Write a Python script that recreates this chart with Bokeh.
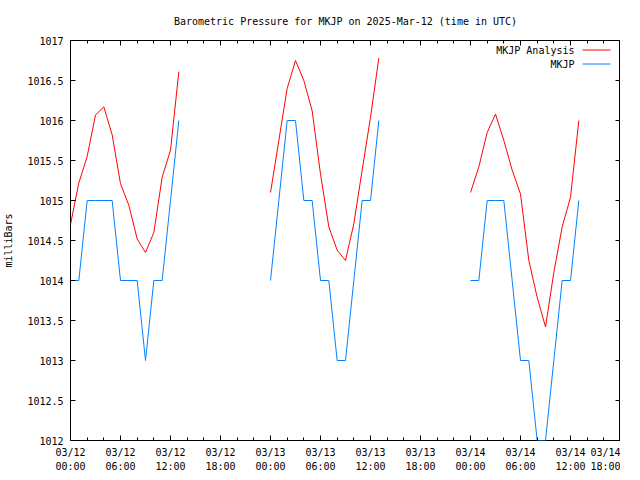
import math
from bokeh.plotting import figure
from bokeh.models import FixedTicker, LinearAxis, Range1d, Label
from bokeh.embed import file_html
from bokeh.resources import INLINE

# ---- data (hours after 2025-03-12 00:00 UTC) ----
day_start_hours = [0, 24, 48]

analysis_0312 = [1014.70, 1015.22, 1015.55, 1016.07, 1016.17, 1015.82, 1015.21, 1014.94,
                 1014.52, 1014.35, 1014.60, 1015.29, 1015.63, 1016.61]
analysis_0313 = [1015.10, 1015.75, 1016.40, 1016.75, 1016.50, 1016.12, 1015.33, 1014.67,
                 1014.38, 1014.25, 1014.71, 1015.38, 1016.04, 1016.78]
analysis_0314 = [1015.10, 1015.42, 1015.85, 1016.08, 1015.75, 1015.38, 1015.08, 1014.25,
                 1013.79, 1013.42, 1014.10, 1014.67, 1015.04, 1016.00]

mkjp_0312 = [1014, 1014, 1015, 1015, 1015, 1015, 1014, 1014, 1014, 1013, 1014, 1014, 1015, 1016]
mkjp_0313 = [1014, 1015, 1016, 1016, 1015, 1015, 1014, 1014, 1013, 1013, 1014, 1015, 1015, 1016]
mkjp_0314 = [1014, 1014, 1015, 1015, 1015, 1014, 1013, 1013, 1012, 1012, 1013, 1014, 1014, 1015]

series_names = ["MKJP Analysis", "MKJP"]

x_tick_hours = [0, 6, 12, 18, 24, 30, 36, 42, 48, 54, 60, 66]
x_tick_labels = ["03/12\n00:00", "03/12\n06:00", "03/12\n12:00", "03/12\n18:00",
                 "03/13\n00:00", "03/13\n06:00", "03/13\n12:00", "03/13\n18:00",
                 "03/14\n00:00", "03/14\n06:00", "03/14\n12:00", "03/14\n18:00"]
x_minor_hours = list(range(0, 67, 2))
y_tick_values = [1012.0, 1012.5, 1013.0, 1013.5, 1014.0, 1014.5, 1015.0, 1015.5,
                 1016.0, 1016.5, 1017.0]
y_tick_labels = ["1012", "1012.5", "1013", "1013.5", "1014", "1014.5", "1015", "1015.5",
                 "1016", "1016.5", "1017"]


def join_days(days):
    xs, ys = [], []
    for start, vals in zip(day_start_hours, days):
        xs += [start + i for i in range(len(vals))] + [math.nan]
        ys += list(vals) + [math.nan]
    return xs, ys


ax, ay = join_days([analysis_0312, analysis_0313, analysis_0314])
mx, my = join_days([mkjp_0312, mkjp_0313, mkjp_0314])

FONT = "DejaVu Sans Mono"
FS = "10px"
RED = "#ff0000"
BLUE = "#0080ff"
series_colors = [RED, BLUE]

FRAME_W, FRAME_H = 550, 400
p = figure(frame_width=FRAME_W, frame_height=FRAME_H, output_backend="svg",
           toolbar_location=None,
           x_range=Range1d(0, 66), y_range=Range1d(1012, 1017),
           min_border_left=0, min_border_right=0, min_border_top=0, min_border_bottom=0,
           title="Barometric Pressure for MKJP on 2025-Mar-12 (time in UTC)")
# pixel-like ranges used only for placing the key (legend)
p.extra_x_ranges = {"key": Range1d(0, FRAME_W)}
p.extra_y_ranges = {"key": Range1d(0, FRAME_H)}

p.title.align = "center"
p.title.text_font = FONT
p.title.text_font_size = FS
p.title.text_font_style = "normal"
p.title.text_color = "black"
p.title.padding = 6
p.title.standoff = 15

p.xgrid.visible = False
p.ygrid.visible = False
p.outline_line_color = "black"
p.outline_line_width = 1
p.outline_line_alpha = 1
p.background_fill_color = "white"
p.border_fill_color = "white"

xt = FixedTicker(ticks=x_tick_hours, minor_ticks=x_minor_hours)
yt = FixedTicker(ticks=y_tick_values, minor_ticks=[])


def style_axis(a):
    a.axis_line_color = None
    a.major_tick_in = 5
    a.major_tick_out = 0
    a.minor_tick_in = 3
    a.minor_tick_out = 0
    a.major_tick_line_color = "black"
    a.minor_tick_line_color = "black"
    a.major_label_text_font = FONT
    a.major_label_text_font_size = FS
    a.major_label_text_color = "black"
    a.axis_label_text_font = FONT
    a.axis_label_text_font_size = FS
    a.axis_label_text_font_style = "normal"
    a.axis_label_text_color = "black"


xa = p.xaxis[0]
xa.ticker = xt
xa.major_label_overrides = dict(zip(x_tick_hours, x_tick_labels))
style_axis(xa)
xa.major_label_standoff = 6
xa.major_label_text_line_height = 1.3

ya = p.yaxis[0]
ya.ticker = yt
ya.major_label_overrides = dict(zip(y_tick_values, y_tick_labels))
style_axis(ya)
ya.major_label_standoff = 7
ya.axis_label = "milliBars"
ya.axis_label_standoff = 10

top = LinearAxis(ticker=xt, major_label_standoff=0)
style_axis(top)
top.major_label_overrides = {t: "" for t in x_tick_hours}
p.add_layout(top, "above")
right = LinearAxis(ticker=yt, major_label_standoff=0)
style_axis(right)
right.major_label_overrides = {t: "" for t in y_tick_values}
p.add_layout(right, "right")

p.line(ax, ay, line_color=RED, line_width=1)
p.line(mx, my, line_color=BLUE, line_width=1)

# gnuplot-style key (top right): text right-aligned, sample line to its right
key_rows = [390.5, 376.5]
for name, col, sy in zip(series_names, series_colors, key_rows):
    p.line([512, 540], [sy, sy], line_color=col, line_width=1,
           x_range_name="key", y_range_name="key")
    p.add_layout(Label(x=504, y=sy, x_units="screen", y_units="screen", text=name,
                       text_align="right", text_baseline="middle", text_font=FONT,
                       text_font_size=FS, text_color="black"))

open("out.html", "w").write(file_html(p, INLINE))
